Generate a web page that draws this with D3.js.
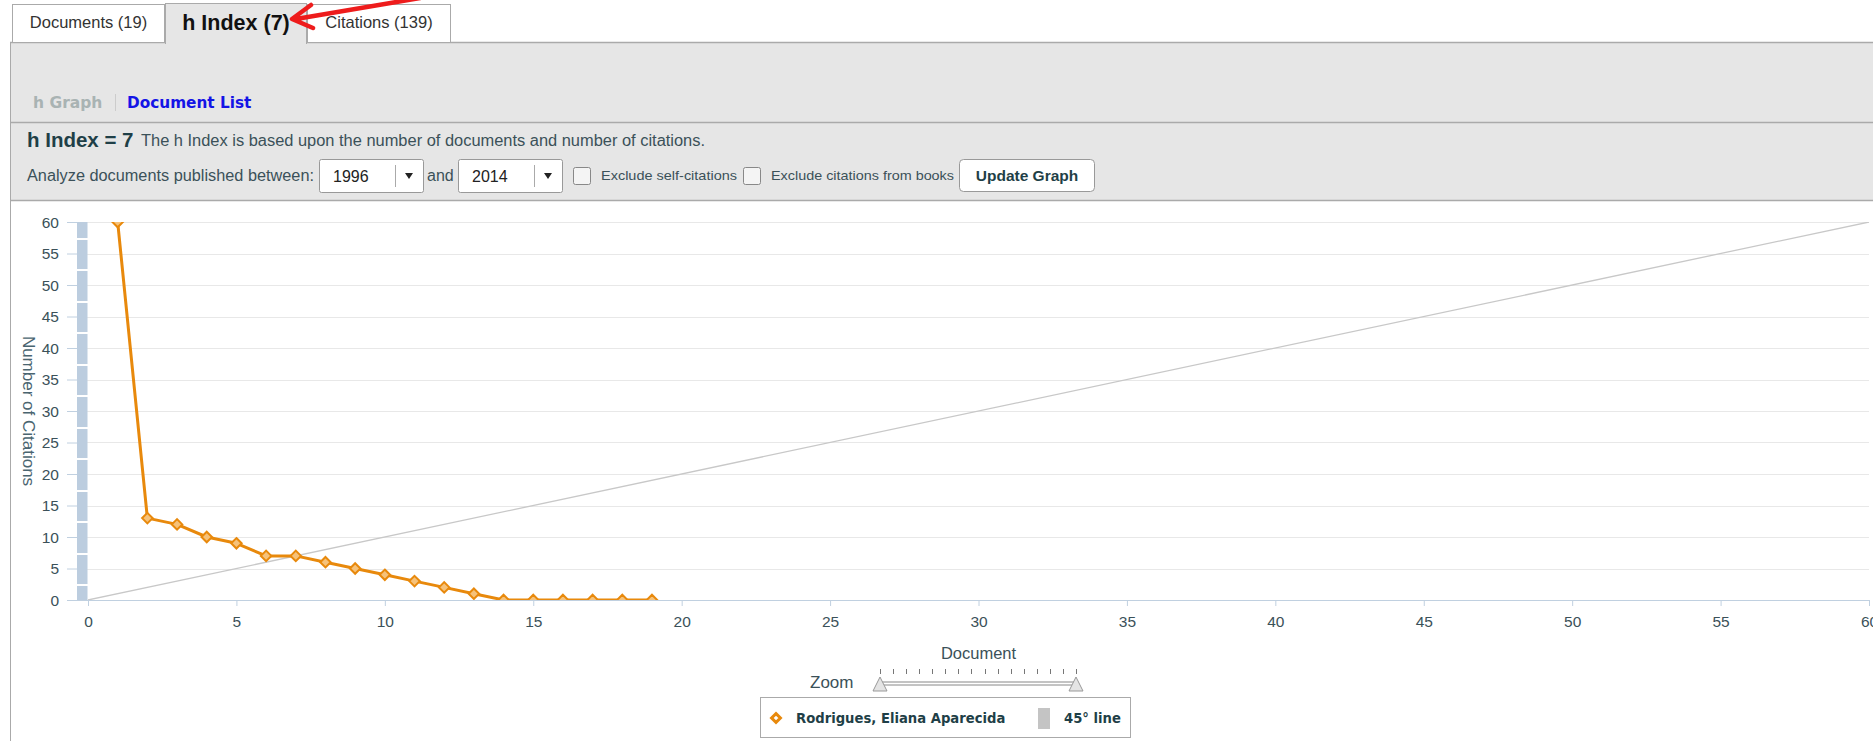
<!DOCTYPE html>
<html>
<head>
	<meta charset="utf-8">
	<title>h Index</title>
	<script src="https://d3js.org/d3.v7.min.js"></script>
	<style type="text/css">
		body {
			margin: 0;
			background-color: #ffffff;
			font-family: 'Liberation Sans', Arial, sans-serif;
		}
		svg text {
			fill: #3b5159;
		}
	</style>
</head>
<body>
<script type="text/javascript">

	// data
	var docs      = [1, 2, 3, 4, 5, 6, 7, 8, 9, 10, 11, 12, 13, 14, 15, 16, 17, 18, 19];
	var citations = [60, 13, 12, 10, 9, 7, 7, 6, 5, 4, 3, 2, 1, 0, 0, 0, 0, 0, 0];
	var xTicks    = [0, 5, 10, 15, 20, 25, 30, 35, 40, 45, 50, 55, 60];
	var yTicks    = [0, 5, 10, 15, 20, 25, 30, 35, 40, 45, 50, 55, 60];
	var diagonal  = [0, 60];
	var tabs      = ['Documents (19)', 'h Index (7)', 'Citations (139)'];
	var author    = 'Rodrigues, Eliana Aparecida';

	var W = 1873, H = 741;
	var orange = '#e8890c';

	var svg = d3.select('body')
		.append('svg')
		.attr('width', W)
		.attr('height', H);

	// ---------- page chrome ----------
	svg.append('rect')
		.attr('x', 10).attr('y', 42)
		.attr('width', W - 10).attr('height', 159)
		.attr('fill', '#e6e6e6');

	svg.append('line')
		.attr('x1', 10).attr('x2', W).attr('y1', 42.5).attr('y2', 42.5)
		.attr('stroke', '#aaaaaa').attr('stroke-width', 1.5);
	svg.append('line')
		.attr('x1', 10).attr('x2', W).attr('y1', 122.5).attr('y2', 122.5)
		.attr('stroke', '#aaaaaa').attr('stroke-width', 1.5);
	svg.append('line')
		.attr('x1', 10).attr('x2', W).attr('y1', 200.5).attr('y2', 200.5)
		.attr('stroke', '#aaaaaa').attr('stroke-width', 1.5);
	svg.append('line')
		.attr('x1', 10.5).attr('x2', 10.5).attr('y1', 42).attr('y2', H)
		.attr('stroke', '#aaaaaa').attr('stroke-width', 1);

	// tabs
	var tabX = [12, 165, 307, 451];
	tabs.forEach(function(t, i){
		var active = (i == 1);
		svg.append('rect')
			.attr('x', tabX[i] + 0.5).attr('y', active ? 3.5 : 4.5)
			.attr('width', tabX[i + 1] - tabX[i] - 1)
			.attr('height', active ? 40 : 38)
			.attr('fill', active ? '#e6e6e6' : '#ffffff')
			.attr('stroke', '#aaaaaa');
		svg.append('text')
			.text(t)
			.attr('x', (tabX[i] + tabX[i + 1]) / 2)
			.attr('y', active ? 30 : 28)
			.attr('text-anchor', 'middle')
			.attr('font-size', active ? '21.5px' : '16.5px')
			.attr('font-weight', active ? 'bold' : 'normal')
			.style('fill', active ? '#111111' : '#333333');
	});
	// hide the panel top line under the active tab
	svg.append('rect')
		.attr('x', 166).attr('y', 40)
		.attr('width', 140).attr('height', 4)
		.attr('fill', '#e6e6e6');

	// red arrow
	svg.append('path')
		.attr('d', 'M296,19 L420,-2 M311,5 L292,19 L313,28')
		.attr('fill', 'none')
		.attr('stroke', '#ee1c1c')
		.attr('stroke-width', 4.5)
		.attr('stroke-linecap', 'round')
		.attr('stroke-linejoin', 'round');

	svg.append('text').text('h Graph')
		.attr('x', 33).attr('y', 108)
		.attr('font-family', 'DejaVu Sans')
		.attr('font-weight', 'bold').attr('font-size', '15.5px')
		.style('fill', '#a9b3b3');
	svg.append('line')
		.attr('x1', 115.5).attr('x2', 115.5).attr('y1', 94).attr('y2', 111)
		.attr('stroke', '#cccccc');
	svg.append('text').text('Document List')
		.attr('x', 127).attr('y', 108)
		.attr('font-family', 'DejaVu Sans')
		.attr('font-weight', 'bold').attr('font-size', '15.3px')
		.style('fill', '#1414e6');

	svg.append('text').text('h Index = 7')
		.attr('x', 27).attr('y', 147)
		.attr('font-weight', 'bold').attr('font-size', '20.5px')
		.style('fill', '#1f3f47');
	svg.append('text').text('The h Index is based upon the number of documents and number of citations.')
		.attr('x', 141).attr('y', 146)
		.attr('font-size', '16px')
		.attr('textLength', 564)
		.attr('lengthAdjust', 'spacingAndGlyphs');

	svg.append('text').text('Analyze documents published between:')
		.attr('x', 27).attr('y', 181)
		.attr('font-size', '16px')
		.attr('textLength', 287)
		.attr('lengthAdjust', 'spacingAndGlyphs');

	// selects
	function dropdown(x, w, label){
		svg.append('rect')
			.attr('x', x + 0.5).attr('y', 159.5)
			.attr('width', w).attr('height', 33)
			.attr('rx', 2)
			.attr('fill', '#ffffff').attr('stroke', '#999999');
		svg.append('line')
			.attr('x1', x + w - 27.5).attr('x2', x + w - 27.5)
			.attr('y1', 165).attr('y2', 187)
			.attr('stroke', '#aaaaaa');
		svg.append('path')
			.attr('d', 'M' + (x + w - 18) + ',173 l8,0 l-4,6 z')
			.attr('fill', '#222222');
		svg.append('text').text(label)
			.attr('x', x + 14).attr('y', 182)
			.attr('font-size', '16px')
			.style('fill', '#222222');
	}
	dropdown(319, 104, '1996');
	svg.append('text').text('and')
		.attr('x', 427).attr('y', 181)
		.attr('font-size', '16px');
	dropdown(458, 104, '2014');

	function checkbox(x, label, w){
		svg.append('rect')
			.attr('x', x + 0.5).attr('y', 167.5)
			.attr('width', 17).attr('height', 17)
			.attr('rx', 2)
			.attr('fill', '#f4f4f4').attr('stroke', '#888888');
		svg.append('text').text(label)
			.attr('x', x + 28).attr('y', 180)
			.attr('font-size', '13px')
			.attr('textLength', w)
			.attr('lengthAdjust', 'spacingAndGlyphs');
	}
	checkbox(573, 'Exclude self-citations', 136);
	checkbox(743, 'Exclude citations from books', 183);

	svg.append('rect')
		.attr('x', 959.5).attr('y', 159.5)
		.attr('width', 135).attr('height', 32)
		.attr('rx', 4)
		.attr('fill', '#ffffff').attr('stroke', '#999999');
	svg.append('text').text('Update Graph')
		.attr('x', 1027).attr('y', 181)
		.attr('text-anchor', 'middle')
		.attr('font-weight', 'bold').attr('font-size', '15.5px')
		.style('fill', '#1f3f47');

	// ---------- chart ----------
	var plotLeft = 77, plotRight = 1869, plotTop = 222, plotBottom = 600;

	var x = d3.scaleLinear().domain([0, 60]).range([88, plotRight]);
	var y = d3.scaleLinear().domain([0, 60]).range([plotBottom, plotTop]);

	// gridlines
	svg.append('g')
		.selectAll('line')
		.data(yTicks.filter(function(d){ return d > 0; }))
		.enter()
		.append('line')
		.attr('x1', plotLeft).attr('x2', plotRight)
		.attr('y1', function(d){ return Math.round(y(d)) + 0.5; })
		.attr('y2', function(d){ return Math.round(y(d)) + 0.5; })
		.attr('stroke', '#e8e8e8');

	// y axis (ticks to the left, no line)
	var yAxis = svg.append('g')
		.attr('transform', 'translate(' + plotLeft + ',0)')
		.call(d3.axisLeft(y).tickValues(yTicks).tickSize(10).tickPadding(8));
	yAxis.select('.domain').remove();
	yAxis.selectAll('.tick line').attr('stroke', '#c0d0e0');
	yAxis.selectAll('.tick text')
		.attr('font-size', '15.5px')
		.attr('font-family', "'Liberation Sans', Arial, sans-serif")
		.attr('dy', '0.35em');

	svg.append('text').text('Number of Citations')
		.attr('transform', 'translate(23,' + (plotTop + plotBottom) / 2 + ') rotate(90)')
		.attr('text-anchor', 'middle')
		.attr('font-size', '17px')
		.style('fill', '#4a6570');

	// blue column at x = 0, split halfway between the y ticks
	var bounds = [0];
	for (var i = 1; i < yTicks.length; i++) bounds.push((yTicks[i - 1] + yTicks[i]) / 2);
	bounds.push(60);
	var segs = d3.pairs(bounds);
	svg.append('g')
		.selectAll('rect')
		.data(segs)
		.enter()
		.append('rect')
		.attr('x', x(0) - 11)
		.attr('width', 10.5)
		.attr('y', function(d){ return Math.round(y(d[1])) + (d[1] < 60 ? 2 : 0); })
		.attr('height', function(d){ return Math.round(y(d[0])) - Math.round(y(d[1])) - (d[1] < 60 ? 2 : 0); })
		.attr('fill', '#bccddf');

	// x axis
	var xAxis = svg.append('g')
		.attr('transform', 'translate(0,' + plotBottom + ')')
		.call(d3.axisBottom(x).tickValues(xTicks).tickSize(6).tickPadding(10));
	xAxis.select('.domain')
		.attr('d', 'M' + plotLeft + ',0.5H' + plotRight)
		.attr('stroke', '#c0d0e0');
	xAxis.selectAll('.tick line').attr('stroke', '#c0d0e0');
	xAxis.selectAll('.tick text')
		.attr('font-size', '15.5px')
		.attr('font-family', "'Liberation Sans', Arial, sans-serif");

	svg.append('text').text('Document')
		.attr('x', x(30)).attr('y', 659)
		.attr('text-anchor', 'middle')
		.attr('font-size', '16.5px');

	// clip
	svg.append('clipPath').attr('id', 'plotclip')
		.append('rect')
		.attr('x', plotLeft).attr('y', plotTop)
		.attr('width', plotRight - plotLeft + 1)
		.attr('height', plotBottom - plotTop);

	var plot = svg.append('g').attr('clip-path', 'url(#plotclip)');

	// 45 degree line
	plot.append('line')
		.attr('x1', x(diagonal[0])).attr('y1', y(diagonal[0]))
		.attr('x2', x(diagonal[1])).attr('y2', y(diagonal[1]))
		.attr('stroke', '#c8c8c8').attr('stroke-width', 1.3);

	var pts = docs.map(function(d, i){ return [d, citations[i]]; });

	plot.append('path')
		.datum(pts)
		.attr('d', d3.line()
			.x(function(d){ return x(d[0]); })
			.y(function(d){ return y(d[1]); }))
		.attr('fill', 'none')
		.attr('stroke', orange)
		.attr('stroke-width', 3)
		.attr('stroke-linejoin', 'round');

	plot.selectAll('path.marker')
		.data(pts)
		.enter()
		.append('path')
		.attr('class', 'marker')
		.attr('d', d3.symbol().type(d3.symbolDiamond2).size(70))
		.attr('transform', function(d){ return 'translate(' + x(d[0]) + ',' + y(d[1]) + ')'; })
		.attr('fill', '#f6c27a')
		.attr('stroke', orange)
		.attr('stroke-width', 2);

	// zoom slider
	svg.append('text').text('Zoom')
		.attr('x', 810).attr('y', 688)
		.attr('font-size', '17px');
	var sx = d3.scaleLinear().domain([0, 15]).range([880, 1076]);
	svg.append('g')
		.selectAll('line')
		.data(d3.range(16))
		.enter()
		.append('line')
		.attr('x1', function(d){ return Math.round(sx(d)) + 0.5; })
		.attr('x2', function(d){ return Math.round(sx(d)) + 0.5; })
		.attr('y1', 669).attr('y2', 674)
		.attr('stroke', '#777777');
	svg.append('rect')
		.attr('x', 880).attr('y', 682)
		.attr('width', 196).attr('height', 3)
		.attr('fill', '#ffffff')
		.attr('stroke', '#888888').attr('stroke-width', 1);
	[880, 1076].forEach(function(hx){
		svg.append('path')
			.attr('d', 'M' + hx + ',677 l7,14 l-14,0 z')
			.attr('fill', '#e4e4e4')
			.attr('stroke', '#999999')
			.attr('stroke-linejoin', 'round');
	});

	// legend
	svg.append('rect')
		.attr('x', 760.5).attr('y', 697.5)
		.attr('width', 370).attr('height', 40)
		.attr('fill', '#ffffff')
		.attr('stroke', '#aaaaaa');
	svg.append('path')
		.attr('d', d3.symbol().type(d3.symbolDiamond2).size(50))
		.attr('transform', 'translate(776,718)')
		.attr('fill', '#ffffff')
		.attr('stroke', orange)
		.attr('stroke-width', 3);
	svg.append('text').text(author)
		.attr('x', 796).attr('y', 723)
		.attr('font-family', 'DejaVu Sans')
		.attr('font-weight', 'bold').attr('font-size', '13.2px')
		.style('fill', '#1f3f47');
	svg.append('rect')
		.attr('x', 1038).attr('y', 708)
		.attr('width', 12).attr('height', 21)
		.attr('fill', '#c4c4c4');
	svg.append('text').text('45° line')
		.attr('x', 1064).attr('y', 723)
		.attr('font-family', 'DejaVu Sans')
		.attr('font-weight', 'bold').attr('font-size', '13.2px')
		.style('fill', '#1f3f47');

</script>
</body>
</html>
